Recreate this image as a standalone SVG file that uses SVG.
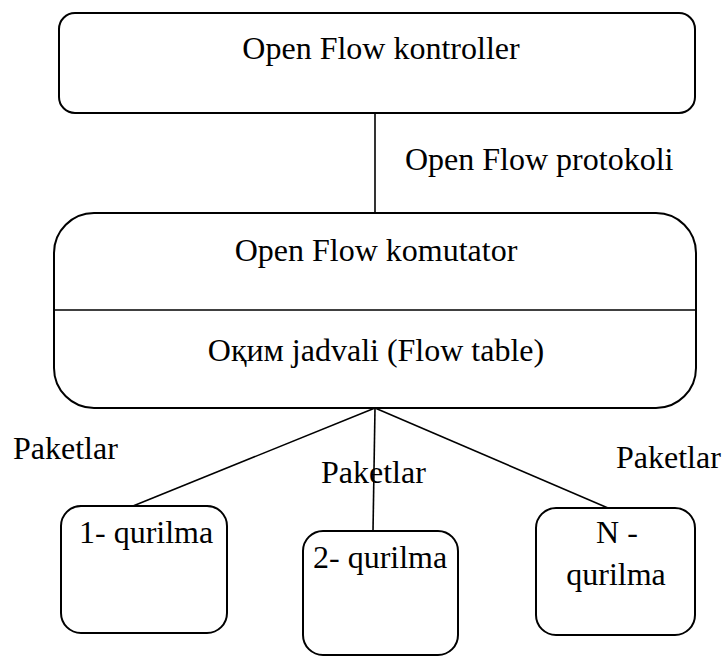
<svg xmlns="http://www.w3.org/2000/svg" width="723" height="657" viewBox="0 0 723 657">
<style>
.b{fill:#fff;stroke:#000;stroke-width:2}
.l{stroke:#000;stroke-width:1.6;fill:none}
text{font-family:"Liberation Serif","Times New Roman","DejaVu Serif",serif;font-size:32px;fill:#000}
.m{text-anchor:middle}
</style>
<rect width="723" height="657" fill="#fff"/>
<g id="connectors">
<line class="l" x1="375" y1="113" x2="375" y2="213"/>
<line class="l" x1="375" y1="408" x2="133" y2="506"/>
<line class="l" x1="375" y1="408" x2="373" y2="531"/>
<line class="l" x1="375" y1="408" x2="608" y2="508"/>
</g>
<g id="controller">
<rect class="b" x="59" y="13" width="636" height="100" rx="16"/>
<text class="m" x="381" y="59">Open Flow kontroller</text>
</g>
<text x="405" y="170">Open Flow protokoli</text>
<g id="switch">
<rect class="b" x="54" y="213" width="642" height="195" rx="40"/>
<line class="l" x1="54" y1="310" x2="696" y2="310"/>
<text class="m" x="376" y="261">Open Flow komutator</text>
<text class="m" x="376" y="361">Oқим jadvali (Flow table)</text>
</g>
<text x="13" y="459">Paketlar</text>
<text x="321" y="483">Paketlar</text>
<text x="616" y="468">Paketlar</text>
<g id="dev1">
<rect class="b" x="61" y="506" width="166" height="127" rx="20"/>
<text x="79" y="543">1- qurilma</text>
</g>
<g id="dev2">
<rect class="b" x="303" y="531" width="155" height="124" rx="20"/>
<text x="313" y="568">2- qurilma</text>
</g>
<g id="devN">
<rect class="b" x="536" y="508" width="159" height="127" rx="20"/>
<text class="m" x="617" y="543">N -</text>
<text class="m" x="616" y="585">qurilma</text>
</g>
</svg>
